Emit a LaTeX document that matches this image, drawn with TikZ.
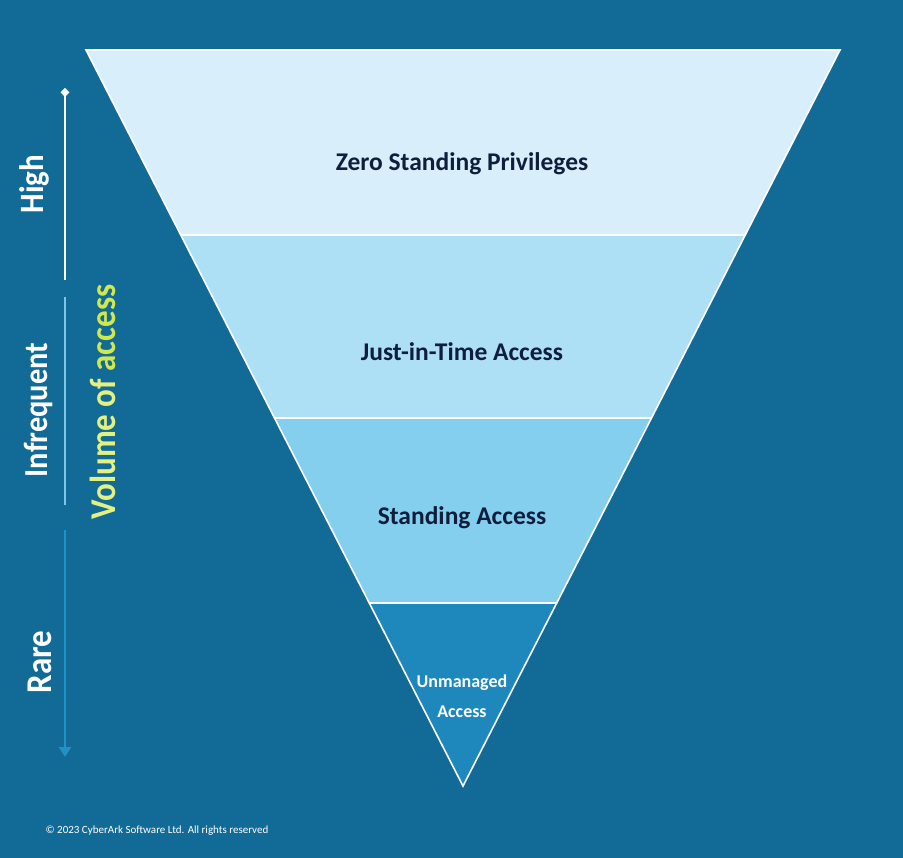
\documentclass[tikz,border=0pt]{standalone}
\usepackage{fontspec}
\setmainfont{Carlito}
\usetikzlibrary{arrows.meta}
\definecolor{bg}{HTML}{126A96}
\definecolor{bandA}{HTML}{D8EFFB}
\definecolor{bandB}{HTML}{AEE0F5}
\definecolor{bandC}{HTML}{84CEEE}
\definecolor{bandD}{HTML}{1E88BC}
\definecolor{navy}{HTML}{0E1E3C}
\definecolor{yel}{HTML}{E4F080}
\definecolor{grn}{HTML}{D0E84E}
\definecolor{midline}{HTML}{7CC6EA}
\definecolor{arrowblue}{HTML}{2390C6}
\tikzset{
  band/.style={draw=white, line width=1.6pt, line join=miter},
  lab/.style={font=\bfseries\fontsize{25.5}{30}\selectfont, text=navy},
  side/.style={text=white, rotate=90},
  axis/.style={line width=2.6pt}
}
\newcommand{\sidetext}[2]{\scalebox{1}[1.1]{\bfseries\fontsize{#1}{#1}\selectfont #2}}
\begin{document}
\begin{tikzpicture}[x=1pt,y=-1pt]
\fill[bg] (0,0) rectangle (903,858);
\useasboundingbox (0,0) rectangle (903,858);
% corner coordinates
\coordinate (TL) at (86,50);
\coordinate (TR) at (840,50);
\coordinate (L1) at (180.7,235);
\coordinate (R1) at (745.3,235);
\coordinate (L2) at (274.5,418);
\coordinate (R2) at (651.5,418);
\coordinate (L3) at (369.2,603);
\coordinate (R3) at (556.8,603);
\coordinate (AP) at (463,786);
\fill[bandA] (TL) -- (TR) -- (R1) -- (L1) -- cycle;
\fill[bandB] (L1) -- (R1) -- (R2) -- (L2) -- cycle;
\fill[bandC] (L2) -- (R2) -- (R3) -- (L3) -- cycle;
\fill[bandD] (L3) -- (R3) -- (AP) -- cycle;
\draw[band] (TL) -- (TR) -- (AP) -- cycle;
\draw[band] (L1) -- (R1);
\draw[band] (L2) -- (R2);
\draw[band] (L3) -- (R3);
% labels
\node[lab] (zsp) at (462,164) {Zero Standing Privileges};
\node[lab] (jit) at (462,352) {Just-in-Time Access};
\node[lab] (sa) at (462,518) {Standing Access};
\node[font=\bfseries\fontsize{18}{30}\selectfont, text=white, align=center] (ua) at (462,696) {Unmanaged\\Access};
% axis
\coordinate (a1) at (65,88);
\coordinate (a2) at (65,280);
\coordinate (b1) at (65,297);
\coordinate (b2) at (65,505);
\coordinate (c1) at (65,530);
\coordinate (c2) at (65,757);
\draw[axis, white, {Diamond[length=9pt,width=9pt]}-] (a1) -- (a2);
\draw[axis, midline] (b1) -- (b2);
\draw[axis, arrowblue, -{Triangle[length=10pt,width=12pt]}] (c1) -- (c2);
\node[side] (high) at (34,184) {\sidetext{31}{High}};
\node[side] (infr) at (38,410) {\sidetext{30.5}{Infrequent}};
\node[side] (rare) at (40,662) {\sidetext{33}{Rare}};
\node[side] (vol) at (103,402) {\sidetext{33}{\textcolor{yel}{Volume of} \textcolor{grn}{access}}};
\node[font=\fontsize{11}{12}\selectfont, text=white, anchor=west] (copy) at (42,831) {© 2023 CyberArk Software Ltd. All rights reserved};
\end{tikzpicture}
\end{document}
